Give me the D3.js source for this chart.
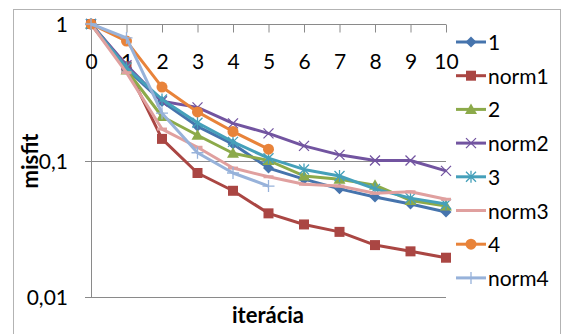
<!DOCTYPE html>
<html>
<head>
<meta charset="utf-8">
<script src="https://cdn.jsdelivr.net/npm/d3@7"></script>
<style>
  body { margin: 0; background: #fff; }
  text { font-family: Lato, "Open Sans", sans-serif; fill: #000; }
</style>
</head>
<body>
<div id="chart"></div>
<script>
    // iterations on the x axis
    const iterations = [0, 1, 2, 3, 4, 5, 6, 7, 8, 9, 10];

    // misfit per series
    const s1     = [1, 0.47, 0.27, 0.178, 0.132, 0.088, 0.073, 0.062, 0.054, 0.048, 0.042];
    const norm1  = [1, 0.49, 0.144, 0.081, 0.06, 0.041, 0.034, 0.030, 0.024, 0.0216, 0.0194];
    const s2     = [1, 0.46, 0.21, 0.153, 0.113, 0.1, 0.077, 0.073, 0.066, 0.051, 0.0465];
    const norm2  = [1, 0.5, 0.272, 0.245, 0.187, 0.158, 0.128, 0.110, 0.10, 0.10, 0.084];
    const s3     = [1, 0.48, 0.28, 0.189, 0.137, 0.104, 0.086, 0.077, 0.062, 0.053, 0.048];
    const norm3  = [1, 0.44, 0.17, 0.125, 0.088, 0.076, 0.067, 0.065, 0.0575, 0.059, 0.052];
    const s4     = [1, 0.75, 0.345, 0.227, 0.163, 0.121];
    const norm4  = [1, 0.79, 0.222, 0.114, 0.081, 0.065];

    const seriesNames = ["1", "norm1", "2", "norm2", "3", "norm3", "4", "norm4"];
    const seriesValues = [s1, norm1, s2, norm2, s3, norm3, s4, norm4];
    const seriesColors = ["#4674AD", "#AA4643", "#8CAA4A", "#7254A0", "#45A0BA", "#E0A09F", "#E8833A", "#97B2DA"];
    const seriesMarkers = ["diamond", "square", "triangle", "x", "star", "dash", "circle", "plus"];

    const yTicks = [1, 0.1, 0.01];
    const yTickLabels = ["1", "0,1", "0,01"];

    const width = 564, height = 334;

    const x = d3.scaleLinear().domain([0, 10]).range([91, 446]);
    const y = d3.scaleLog().domain([0.01, 1]).range([297, 24]);

    const svg = d3.select("#chart")
      .append("svg")
      .attr("width", width)
      .attr("height", height);

    // outer chart border (cropped at the bottom)
    svg.append("rect")
      .attr("x", 13.5).attr("y", 9.5)
      .attr("width", 547).attr("height", 340)
      .style("fill", "none")
      .style("stroke", "#b3b3b3");

    // horizontal gridlines with outside tick stubs
    svg.selectAll(".grid")
      .data(yTicks)
      .enter()
      .append("line")
      .attr("x1", 85).attr("x2", x(10))
      .attr("y1", d => Math.round(y(d)) + 0.5)
      .attr("y2", d => Math.round(y(d)) + 0.5)
      .style("stroke", "#8a8a8a");

    // left axis line
    svg.append("line")
      .attr("x1", x(0) + 0.5).attr("x2", x(0) + 0.5)
      .attr("y1", y(1)).attr("y2", y(0.01))
      .style("stroke", "#8a8a8a");

    // x axis sits at the top (value 1), ticks pointing down
    const xAxis = d3.axisBottom(x).tickValues(iterations).tickSize(8).tickSizeOuter(0).tickPadding(22);
    const gx = svg.append("g")
      .attr("transform", `translate(0,${Math.round(y(1)) + 0.5})`)
      .call(xAxis);
    gx.select(".domain").remove();
    gx.selectAll(".tick line").style("stroke", "#8a8a8a");
    gx.selectAll(".tick text")
      .style("font-size", "21px")
      .style("font-family", "Lato, sans-serif");

    // y tick labels
    svg.selectAll(".ylab")
      .data(yTicks)
      .enter()
      .append("text")
      .attr("x", 68)
      .attr("y", d => y(d) + 8)
      .attr("text-anchor", "end")
      .style("font-size", "21px")
      .text((d, i) => yTickLabels[i]);

    // axis titles
    svg.append("text")
      .attr("transform", "translate(38,161) rotate(-90)")
      .attr("text-anchor", "middle")
      .style("font-size", "22px")
      .style("font-weight", "bold")
      .text("misfit");

    svg.append("text")
      .attr("x", 268).attr("y", 323)
      .attr("text-anchor", "middle")
      .style("font-size", "22px")
      .style("font-weight", "bold")
      .text("iterácia");

    const line = d3.line()
      .x((d, i) => x(iterations[i]))
      .y(d => y(d));

    function drawMarker(g, type, cx, cy, color) {
      if (type === "diamond") {
        g.append("path").attr("d", `M${cx},${cy - 5.5}L${cx + 5.5},${cy}L${cx},${cy + 5.5}L${cx - 5.5},${cy}Z`).style("fill", color);
      } else if (type === "square") {
        g.append("rect").attr("x", cx - 5).attr("y", cy - 5).attr("width", 10).attr("height", 10).style("fill", color);
      } else if (type === "triangle") {
        g.append("path").attr("d", `M${cx},${cy - 6}L${cx + 6},${cy + 4.5}L${cx - 6},${cy + 4.5}Z`).style("fill", color);
      } else if (type === "x") {
        g.append("path").attr("d", `M${cx - 5},${cy - 5}L${cx + 5},${cy + 5}M${cx - 5},${cy + 5}L${cx + 5},${cy - 5}`)
          .style("stroke", color).style("stroke-width", 1.3);
      } else if (type === "star") {
        g.append("path").attr("d", `M${cx - 5},${cy - 5}L${cx + 5},${cy + 5}M${cx - 5},${cy + 5}L${cx + 5},${cy - 5}M${cx},${cy - 6}L${cx},${cy + 6}`)
          .style("stroke", color).style("stroke-width", 1.3);
      } else if (type === "dash") {
        g.append("path").attr("d", `M${cx - 5},${cy}L${cx + 5},${cy}`).style("stroke", color).style("stroke-width", 3);
      } else if (type === "circle") {
        g.append("circle").attr("cx", cx).attr("cy", cy).attr("r", 5.5).style("fill", color);
      } else if (type === "plus") {
        g.append("path").attr("d", `M${cx - 6},${cy}L${cx + 6},${cy}M${cx},${cy - 6}L${cx},${cy + 6}`)
          .style("stroke", color).style("stroke-width", 1.3);
      }
    }

    // series lines + markers
    seriesValues.forEach((vals, k) => {
      const g = svg.append("g");
      g.append("path")
        .datum(vals)
        .attr("d", line)
        .style("fill", "none")
        .style("stroke", seriesColors[k])
        .style("stroke-width", 3)
        .style("stroke-linejoin", "round");
      vals.forEach((v, i) => drawMarker(g, seriesMarkers[k], x(iterations[i]), y(v), seriesColors[k]));
    });

    // legend
    const legend = svg.append("g");
    seriesNames.forEach((name, k) => {
      const ly = 42 + k * 33.7;
      legend.append("line")
        .attr("x1", 456).attr("x2", 486)
        .attr("y1", ly).attr("y2", ly)
        .style("stroke", seriesColors[k])
        .style("stroke-width", 3);
      drawMarker(legend, seriesMarkers[k], 471, ly, seriesColors[k]);
      legend.append("text")
        .attr("x", 488).attr("y", ly + 8)
        .style("font-size", "21px")
        .text(name);
    });
</script>
</body>
</html>
